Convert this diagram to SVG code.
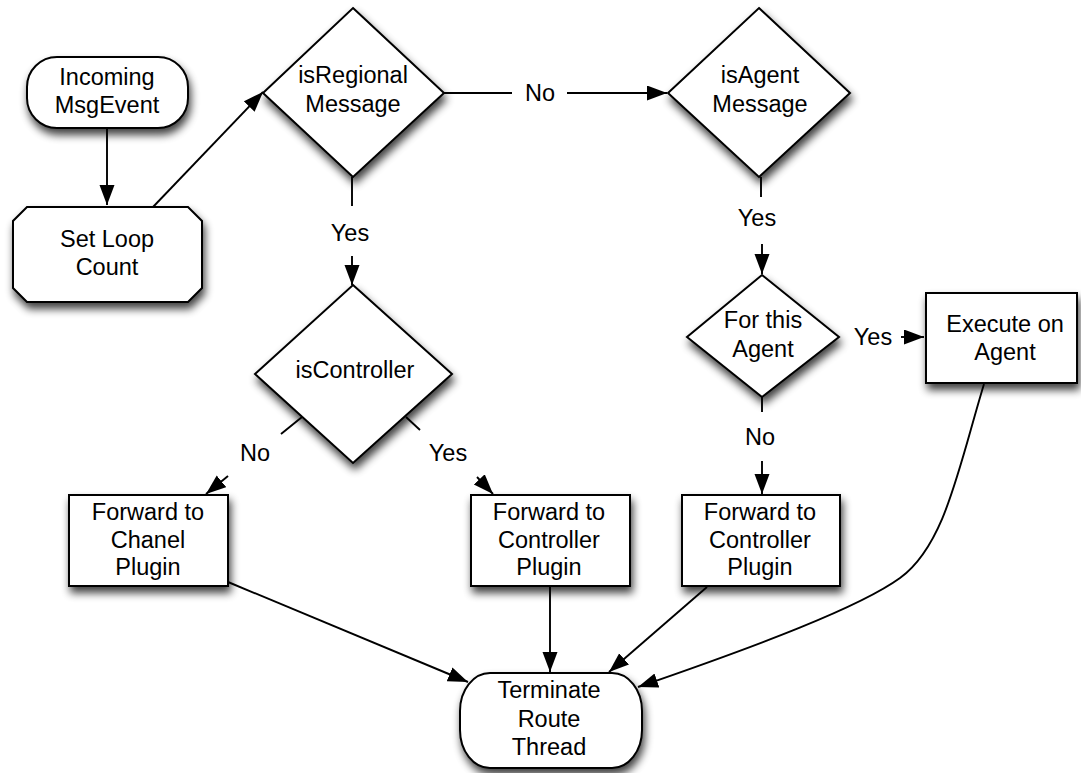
<svg xmlns="http://www.w3.org/2000/svg" width="1081" height="773" viewBox="0 0 1081 773">
  <defs>
    <filter id="shadow" x="-20%" y="-20%" width="150%" height="160%">
      <feGaussianBlur in="SourceAlpha" stdDeviation="4"/>
      <feOffset dx="2" dy="6" result="blur"/>
      <feComponentTransfer><feFuncA type="linear" slope="0.75"/></feComponentTransfer>
      <feMerge><feMergeNode/><feMergeNode in="SourceGraphic"/></feMerge>
    </filter>
    <marker id="arrow" markerUnits="userSpaceOnUse" markerWidth="21" markerHeight="16" refX="20" refY="7.5" orient="auto">
      <path d="M0,0 L20,7.5 L0,15 z" fill="#000"/>
    </marker>
  </defs>
  <style>
    .shape { fill: #fff; stroke: #000; stroke-width: 2; filter: url(#shadow); }
    .edge { fill: none; stroke: #000; stroke-width: 1.9; }
    .arr { marker-end: url(#arrow); }
    text { font-family: "Liberation Sans", Arial, Helvetica, sans-serif; font-size: 23.5px; fill: #000; text-anchor: middle; }
  </style>
  <rect width="1081" height="773" fill="#fff"/>

  <!-- connectors -->
  <g id="connectors">
    <line class="edge arr" x1="107" y1="128" x2="107" y2="205"/>
    <line class="edge arr" x1="153" y1="207" x2="263" y2="92"/>
    <line class="edge" x1="444" y1="93" x2="512" y2="93"/>
    <line class="edge arr" x1="567" y1="93" x2="667" y2="93"/>
    <line class="edge" x1="352" y1="177" x2="352" y2="206"/>
    <line class="edge arr" x1="352" y1="256" x2="352" y2="285"/>
    <line class="edge" x1="761" y1="177" x2="761" y2="197"/>
    <line class="edge arr" x1="762" y1="244" x2="762" y2="274"/>
    <line class="edge arr" x1="901" y1="337" x2="924" y2="337"/>
    <line class="edge" x1="762" y1="397" x2="762" y2="412"/>
    <line class="edge arr" x1="762" y1="461" x2="762" y2="494"/>
    <line class="edge" x1="302" y1="417" x2="281" y2="434"/>
    <line class="edge arr" x1="228" y1="476" x2="206" y2="494"/>
    <line class="edge" x1="406" y1="417" x2="420" y2="430"/>
    <line class="edge arr" x1="477" y1="477" x2="493" y2="494"/>
    <line class="edge arr" x1="228" y1="582" x2="468" y2="682"/>
    <line class="edge arr" x1="550" y1="586" x2="550" y2="672"/>
    <line class="edge arr" x1="707" y1="587" x2="609" y2="672"/>
    <path class="edge arr" d="M984,384 C958,470 945,545 900,578 C860,607 760,645 638,687"/>
  </g>

  <!-- edge labels -->
  <g id="edge-labels">
    <text x="540" y="101">No</text>
    <text x="350" y="241">Yes</text>
    <text x="757" y="226">Yes</text>
    <text x="873" y="345">Yes</text>
    <text x="760" y="445">No</text>
    <text x="255" y="461">No</text>
    <text x="448" y="461">Yes</text>
  </g>

  <g id="incoming">
    <rect class="shape" x="27" y="57" width="161" height="71" rx="30" ry="30"/>
    <text x="107" y="85">Incoming</text>
    <text x="107" y="113">MsgEvent</text>
  </g>

  <g id="set-loop-count">
    <polygon class="shape" points="27,207 188,207 202,221 202,288 188,302 27,302 13,288 13,221"/>
    <text x="107" y="247">Set Loop</text>
    <text x="107" y="275">Count</text>
  </g>

  <g id="is-regional">
    <polygon class="shape" points="353,8 444,93 353,177 263,93"/>
    <text x="353" y="83">isRegional</text>
    <text x="353" y="112">Message</text>
  </g>

  <g id="is-agent">
    <polygon class="shape" points="759,8 850,93 759,177 668,93"/>
    <text x="760" y="83">isAgent</text>
    <text x="760" y="112">Message</text>
  </g>

  <g id="for-this-agent">
    <polygon class="shape" points="762,275 839,337 762,397 687,337"/>
    <text x="763" y="328">For this</text>
    <text x="763" y="357">Agent</text>
  </g>

  <g id="execute-on-agent">
    <rect class="shape" x="926" y="293" width="151" height="90"/>
    <text x="1005" y="332">Execute on</text>
    <text x="1005" y="360">Agent</text>
  </g>

  <g id="is-controller">
    <polygon class="shape" points="353,285 452,374 353,463 255,374"/>
    <text x="355" y="378">isController</text>
  </g>

  <g id="forward-chanel">
    <rect class="shape" x="69" y="495" width="159" height="91"/>
    <text x="148" y="520">Forward to</text>
    <text x="148" y="548">Chanel</text>
    <text x="148" y="575">Plugin</text>
  </g>

  <g id="forward-controller-a">
    <rect class="shape" x="471" y="495" width="159" height="91"/>
    <text x="549" y="520">Forward to</text>
    <text x="549" y="548">Controller</text>
    <text x="549" y="575">Plugin</text>
  </g>

  <g id="forward-controller-b">
    <rect class="shape" x="682" y="495" width="158" height="91"/>
    <text x="760" y="520">Forward to</text>
    <text x="760" y="548">Controller</text>
    <text x="760" y="575">Plugin</text>
  </g>

  <g id="terminate">
    <rect class="shape" x="460" y="673" width="182" height="95" rx="30" ry="38"/>
    <text x="549" y="698">Terminate</text>
    <text x="549" y="727">Route</text>
    <text x="549" y="755">Thread</text>
  </g>
</svg>
